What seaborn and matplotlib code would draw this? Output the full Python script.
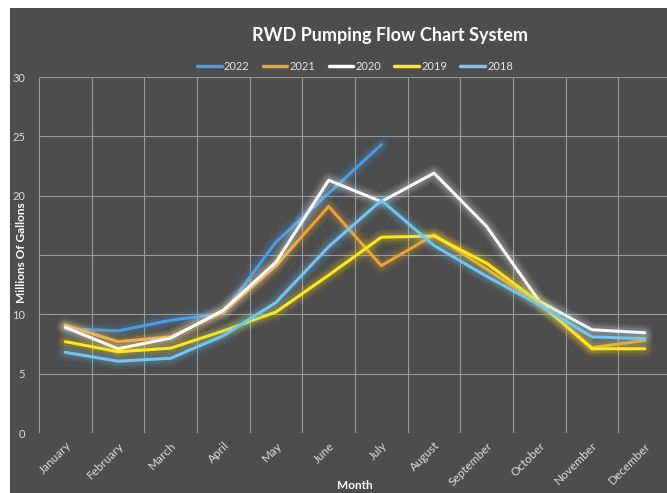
import numpy as np
import pandas as pd
import seaborn as sns
import matplotlib
matplotlib.use('Agg')
import matplotlib.pyplot as plt
import matplotlib.patheffects as pe
from matplotlib.patches import Rectangle

# Datos
# ==============================================================================
months = ['January', 'February', 'March', 'April', 'May', 'June', 'July',
          'August', 'September', 'October', 'November', 'December']
years = ['2022', '2021', '2020', '2019', '2018']

y2022 = [8.8, 8.6, 9.5, 10.1, 16.1, 20.2, 24.3]
y2021 = [9.1, 7.7, 8.1, 10.2, 14.1, 19.1, 14.1, 16.7, 13.8, 10.9, 7.2, 7.8]
y2020 = [8.9, 7.1, 8.0, 10.35, 14.4, 21.3, 19.5, 21.9, 17.4, 11.1, 8.7, 8.45]
y2019 = [7.7, 6.85, 7.15, 8.6, 10.2, 13.3, 16.5, 16.6, 14.3, 11.0, 7.1, 7.1]
y2018 = [6.8, 6.05, 6.3, 8.2, 11.0, 15.7, 19.6, 15.8, 13.2, 10.8, 8.1, 7.95]

colors = {'2022': '#4c9be0', '2021': '#e9a531', '2020': '#ffffff',
          '2019': '#ffe81a', '2018': '#72c6f0'}

series = {'2022': y2022, '2021': y2021, '2020': y2020, '2019': y2019, '2018': y2018}
rows = []
for yr in years:
    for i, v in enumerate(series[yr]):
        rows.append({'Month': i, 'Value': v, 'Year': yr})
df = pd.DataFrame(rows)

# Grafico
# ==============================================================================
sns.set_style('dark')
plt.rcParams['font.family'] = ['Lato', 'DejaVu Sans']

bg = '#4d4d4d'
fig = plt.figure(figsize=(6.67, 4.93), dpi=100, facecolor='white')
fig.patches.append(Rectangle((10/667, 0), 1, (493-8)/493, transform=fig.transFigure,
                             facecolor=bg, edgecolor='none', zorder=-10))

ax = fig.add_axes([39/667, 60/493, 632/667, 356/493])
ax.set_facecolor(bg)

sns.lineplot(data=df, x='Month', y='Value', hue='Year', hue_order=years,
             palette=colors, linewidth=2.2, sort=False, legend=False, ax=ax)

# efecto "glow" suave
for line in ax.get_lines():
    c = line.get_color()
    line.set_path_effects([pe.Stroke(linewidth=12, foreground=c, alpha=0.06),
                           pe.Stroke(linewidth=9, foreground=c, alpha=0.08),
                           pe.Stroke(linewidth=6, foreground=c, alpha=0.12),
                           pe.Normal()])

ax.set_xlim(-0.5, 11.5)
ax.set_ylim(0, 30)
ax.set_yticks(range(0, 31, 5))
ax.set_yticklabels(['0', '5', '10', '', '20', '25', '30'])
ax.set_xticks(np.arange(12))
ax.set_xticklabels(months, rotation=45, ha='right', rotation_mode='anchor')
ax.set_xticks(np.arange(-0.5, 12, 1), minor=True)
ax.grid(False)
ax.grid(which='minor', axis='x', color='#9a9a9a', linewidth=0.8)
ax.grid(which='major', axis='y', color='#9a9a9a', linewidth=0.8)
ax.tick_params(axis='both', which='both', length=0, colors='#dcdcdc', labelsize=8)
ax.tick_params(axis='y', pad=10)
ax.tick_params(axis='x', pad=5, labelsize=8.5)
for s in ax.spines.values():
    s.set_visible(False)

ax.set_xlabel('Month', color='white', fontweight='bold', fontsize=8.5, labelpad=-6)
ax.set_ylabel('')
fig.text(22/667, 1 - 253/493, 'Millions Of Gallons', rotation=90, color='white',
         fontweight='bold', fontsize=8.5, ha='center', va='center')

fig.text(390/667, 1 - 35/493, 'RWD Pumping Flow Chart System', color='white',
         fontweight='bold', fontsize=13, ha='center', va='center')

handles = [plt.Line2D([], [], color=colors[y], linewidth=2.5) for y in years]
leg = fig.legend(handles, years, loc='center', bbox_to_anchor=(355/667, 1 - 66/493),
                 ncol=5, frameon=False, fontsize=8, handlelength=2.2,
                 handletextpad=0.2, columnspacing=1.2)
for t in leg.get_texts():
    t.set_color('#e6e6e6')

plt.savefig('out.png', dpi=100, facecolor='white')
